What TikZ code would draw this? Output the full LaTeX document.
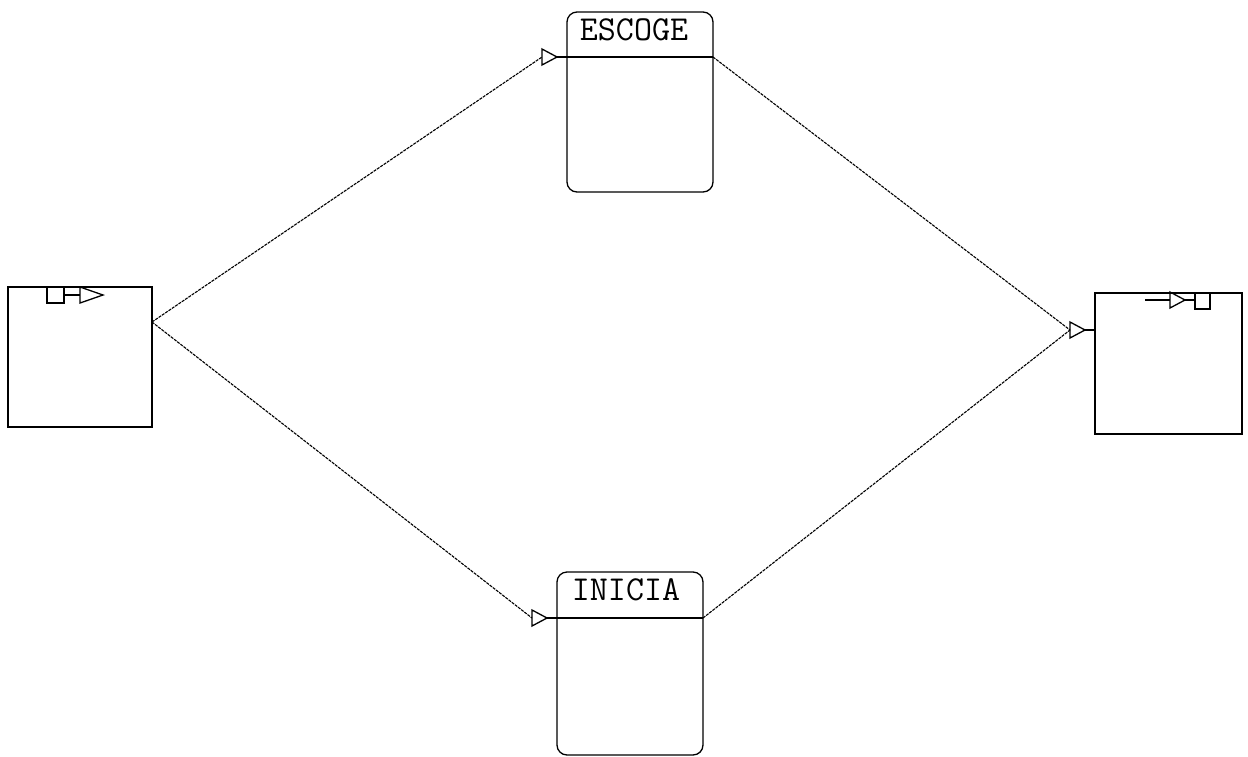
\documentclass[tikz,border=0pt]{standalone}
\usepackage{fontspec}
\usetikzlibrary{calc}
\begin{document}
\begin{tikzpicture}[x=1pt,y=-1pt,line width=1.3pt]
\useasboundingbox[fill=white] (0,0) rectangle (1248,756);
\tikzset{
  conn/.style={line width=1.1pt, dash pattern=on 3pt off 1pt},
  plainbox/.style={draw, line width=1.3pt, inner sep=0pt, outer sep=0pt, anchor=north west},
  unitbox/.style={draw, line width=1.3pt, rounded corners=10pt, inner sep=0pt, outer sep=0pt, anchor=north west},
  lbl/.style={font=\fontsize{35}{35}\selectfont\ttfamily, inner sep=0pt},
  inarrow/.pic={\draw[line width=1.3pt] (0,0) -- (-10,0);
                \draw[line width=1.3pt] (-10,0) -- (-25,-8) -- (-25,8) -- cycle;}
}
% boxes
\node[plainbox, minimum width=144pt, minimum height=140pt] (L) at (8,287) {};
\node[plainbox, minimum width=147pt, minimum height=141pt] (R) at (1095,293) {};
\node[unitbox, minimum width=146pt, minimum height=180pt] (E) at (567,12) {};
\node[unitbox, minimum width=146pt, minimum height=183pt] (I) at (557,572) {};
% header lines
\coordinate (Eh) at ($(E.north west)+(0,45)$);
\coordinate (Ehr) at ($(E.north east)+(0,45)$);
\coordinate (Ih) at ($(I.north west)+(0,46)$);
\coordinate (Ihr) at ($(I.north east)+(0,46)$);
\draw (Eh) -- (Ehr);
\draw (Ih) -- (Ihr);
\node[lbl] (Et) at (634,30) {ESCOGE};
\node[lbl] (It) at (626,590) {INICIA};
% connection points
\coordinate (Lout) at ($(L.north east)+(0,35)$);
\coordinate (Rin) at ($(R.north west)+(0,37)$);
\coordinate (Ein) at ($(Eh)+(-25,0)$);
\coordinate (Iin) at ($(Ih)+(-25,0)$);
\coordinate (Rinb) at ($(Rin)+(-25,0)$);
% connectors
\draw[conn] (Lout) -- (Ein);
\draw[conn] (Lout) -- (Iin);
\draw[conn] (Ehr) -- (Rinb);
\draw[conn] (Ihr) -- (Rinb);
\pic at (Eh) {inarrow};
\pic at (Ih) {inarrow};
\pic at (Rin) {inarrow};
% left box icon
\draw (47,287) rectangle (64,303);
\draw (64,295) -- (80,295);
\draw (80,287) -- (103,295) -- (80,303) -- cycle;
% right box icon
\draw (1145,300) -- (1170,300);
\draw (1170,292) -- (1185,300) -- (1170,308) -- cycle;
\draw (1185,300) -- (1195,300);
\draw (1195,293) rectangle (1210,309);
\end{tikzpicture}
\end{document}
